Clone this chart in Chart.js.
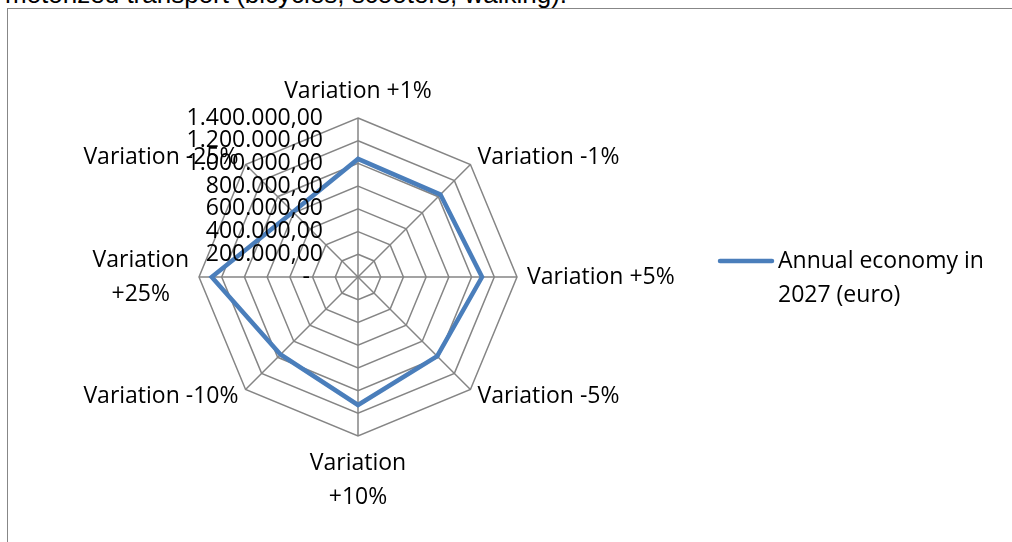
<!DOCTYPE html>
<html>
<head>
<meta charset="utf-8">
<script src="https://cdn.jsdelivr.net/npm/chart.js@4"></script>
<style>
  body { margin: 0; background: #fff; width: 1012px; height: 542px; overflow: hidden; position: relative; }
  #note { position: absolute; left: 5px; top: -19px; font: 26px/26px "Liberation Sans", Arial, sans-serif; color: #000; white-space: nowrap; }
  #frame { position: absolute; left: 7px; top: 8px; width: 1100px; height: 600px; border: 1px solid #878787; }
  canvas { position: absolute; left: 0; top: 0; }
</style>
</head>
<body>
<div id="note">motorized transport (bicycles, scooters, walking).</div>
<div id="frame"></div>
<canvas id="economyRadar" width="1012" height="542"></canvas>
<script>
  // data
  var categories = ['Variation +1%', 'Variation -1%', 'Variation +5%', 'Variation -5%',
                    ['Variation', '+10%'], 'Variation -10%', ['Variation', '+25%'], 'Variation -25%'];
  var economy = [1040000, 1026000, 1092000, 986000, 1127000, 965000, 1288000, 810000];
  var tickLabels = ['-\u2007', '200.000,00', '400.000,00', '600.000,00', '800.000,00',
                    '1.000.000,00', '1.200.000,00', '1.400.000,00'];
  var seriesName = ['Annual economy in', '2027 (euro)'];

  var labelFont = '23px "Open Sans", sans-serif';
  var lineBlue = '#4A7EBB';

  // Excel-like point labels, tick labels and legend, placed from the scale
  var excelLabels = {
    id: 'excelLabels',
    afterDatasetsDraw: function(chart) {
      var ctx = chart.ctx;
      var r = chart.scales.r;
      ctx.save();
      ctx.fillStyle = '#000';
      ctx.font = labelFont;
      ctx.textBaseline = 'middle';

      // tick labels, right aligned left of the vertical axis
      ctx.textAlign = 'right';
      r.ticks.forEach(function(t) {
        var d = r.getDistanceFromCenterForValue(t.value);
        ctx.fillText(t.label, r.xCenter - 35, r.yCenter - d);
      });

      // category labels
      var lineH = 34;
      ctx.textAlign = 'center';
      categories.forEach(function(lab, i) {
        var lines = Array.isArray(lab) ? lab : [lab];
        var p = r.getPointPosition(i, r.drawingArea + 10);
        var deg = Math.round(i * 360 / categories.length);
        var blockH = lines.length * lineH;
        var w = Math.max.apply(null, lines.map(function(l) { return ctx.measureText(l).width; }));
        var cx, top;
        if (deg === 0) { cx = p.x; top = p.y - blockH; }
        else if (deg === 180) { cx = p.x; top = p.y; }
        else if (deg < 180) { cx = p.x + w / 2; top = p.y - blockH / 2; }
        else { cx = p.x - w / 2; top = p.y - blockH / 2; }
        lines.forEach(function(l, k) {
          ctx.fillText(l, cx, top + lineH * (k + 0.5));
        });
      });

      // legend
      ctx.strokeStyle = lineBlue;
      ctx.lineWidth = 4.5;
      ctx.lineCap = 'round';
      ctx.beginPath();
      ctx.moveTo(720, 261);
      ctx.lineTo(772, 261);
      ctx.stroke();
      ctx.textAlign = 'left';
      seriesName.forEach(function(l, k) {
        ctx.fillText(l, 778, 261 + k * 34);
      });
      ctx.restore();
    }
  };

  var ctx1 = document.getElementById('economyRadar').getContext('2d');
  var economyRadar = new Chart(ctx1, {
    type: 'radar',
    data: {
      labels: categories,
      datasets: [{
        label: seriesName.join(' '),
        data: economy,
        borderColor: lineBlue,
        backgroundColor: 'transparent',
        borderWidth: 4.5,
        borderJoinStyle: 'miter',
        pointRadius: 0,
        fill: false
      }]
    },
    options: {
      responsive: false,
      animation: false,
      layout: {
        padding: { left: 199, right: 495, top: 118, bottom: 106 }
      },
      plugins: {
        legend: { display: false },
        tooltip: { enabled: false }
      },
      scales: {
        r: {
          min: 0,
          max: 1400000,
          startAngle: 0,
          ticks: {
            stepSize: 200000,
            display: false,
            callback: function(v, i) { return tickLabels[i]; }
          },
          pointLabels: { display: false },
          grid: { color: '#858585', lineWidth: 1.5 },
          angleLines: { color: '#858585', lineWidth: 1.5 }
        }
      }
    },
    plugins: [excelLabels]
  });
</script>
</body>
</html>
